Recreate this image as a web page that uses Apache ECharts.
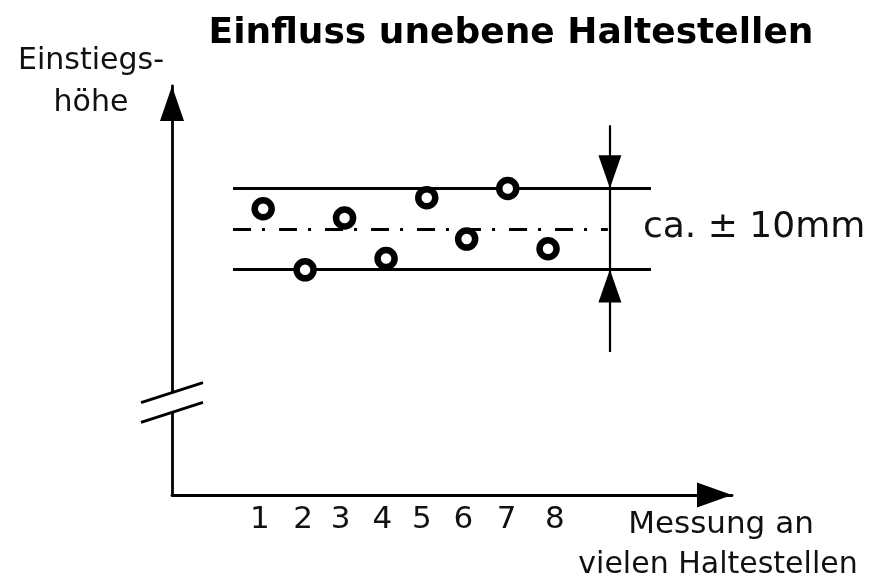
<!DOCTYPE html>
<html>
<head>
<meta charset="utf-8">
<script src="https://cdn.jsdelivr.net/npm/echarts@6.0.0/dist/echarts.min.js"></script>
<style>
  html, body { margin: 0; padding: 0; background: #fff; }
  #chart { width: 869px; height: 583px; }
</style>
</head>
<body>
<div id="chart"></div>
<script>
// Messungen (Haltestellen) und Abweichung der Einstiegshöhe in mm
const measurements = ["1", "2", "3", "4", "5", "6", "7", "8"];
const measureX = [1, 2.03, 3, 4.02, 5.02, 6, 7.01, 8];
const heightDev = [5.0, -10.1, 2.7, -7.3, 7.7, -2.5, 10.0, -4.9];
// Lage der Beschriftungen unter der x-Achse
const labelX = [0.92, 1.98, 2.9, 3.93, 4.9, 5.92, 6.98, 8.17];

// Toleranzband ±10mm
const bandLevels = [10, -10];
const centerLevel = 0;
const bandX = [0.26, 10.53];
const centerEndX = 9.47;
const dimX = 9.52;
const dimY = [25.6, -30.4];
const arrowY = [14.1, -14.1];
// Achsenunterbrechung
const breakY = [-40.4, -45.3];

const FONT = "DejaVu Sans";
const chart = echarts.init(document.getElementById("chart"));

const bandLines = bandLevels.map((lvl) => [
  { coord: [bandX[0], lvl], lineStyle: { type: "solid", width: 2.8, color: "#000" } },
  { coord: [bandX[1], lvl] },
]);
bandLines.push([
  { coord: [bandX[0], centerLevel], lineStyle: { type: [18, 11, 3, 14], width: 2.8, color: "#000" } },
  { coord: [centerEndX, centerLevel] },
]);
bandLines.push([
  { coord: [dimX, dimY[0]], lineStyle: { type: "solid", width: 2.2, color: "#000" } },
  { coord: [dimX, dimY[1]] },
]);

const textStyle = (size) => ({ font: size + "px '" + FONT + "'", fill: "#111", textVerticalAlign: "middle" });

const option = {
  animation: false,
  title: {
    text: "Einfluss unebene Haltestellen",
    left: 506,
    top: 11,
    textAlign: "center",
    textStyle: { fontFamily: FONT, fontSize: 36, fontWeight: "bold", color: "#000" },
  },
  grid: { left: 172, right: 137, top: 86, bottom: 88 },
  xAxis: {
    type: "value",
    min: -1.24,
    max: 12.52,
    splitLine: { show: false },
    axisTick: { show: false },
    axisLine: {
      onZero: false,
      lineStyle: { color: "#000", width: 2.8 },
      symbol: ["none", "triangle"],
      symbolSize: [25, 35],
      symbolOffset: [0, -17.5],
    },
    axisLabel: {
      customValues: labelX,
      margin: 9,
      fontFamily: FONT,
      fontSize: 31,
      color: "#111",
      formatter: (v) => {
        let best = 0;
        labelX.forEach((p, i) => {
          if (Math.abs(p - v) < Math.abs(labelX[best] - v)) best = i;
        });
        return measurements[best];
      },
    },
  },
  yAxis: {
    type: "value",
    min: -65.7,
    max: 35.3,
    splitLine: { show: false },
    axisTick: { show: false },
    axisLabel: { show: false },
    axisLine: {
      onZero: false,
      lineStyle: { color: "#000", width: 2.8 },
      symbol: ["none", "triangle"],
      symbolSize: [24, 35],
      symbolOffset: [0, -17.5],
    },
  },
  graphic: [
    { type: "text", x: 91, y: 61, style: Object.assign(textStyle(30), { text: "Einstiegs-", textAlign: "center" }) },
    { type: "text", x: 91, y: 103, style: Object.assign(textStyle(30), { text: "höhe", textAlign: "center" }) },
    { type: "text", x: 643, y: 228, style: Object.assign(textStyle(36), { text: "ca. ± 10mm", textAlign: "left" }) },
    { type: "text", x: 721, y: 525, style: Object.assign(textStyle(31), { text: "Messung an", textAlign: "center" }) },
    { type: "text", x: 718, y: 565, style: Object.assign(textStyle(30), { text: "vielen Haltestellen", textAlign: "center" }) },
  ],
  series: [
    {
      name: "Einstiegshöhe",
      type: "scatter",
      z: 5,
      symbol: "circle",
      symbolSize: 17,
      itemStyle: { color: "#fff", borderColor: "#000", borderWidth: 6.5, opacity: 1 },
      data: measureX.map((x, i) => [x, heightDev[i]]),
      markLine: {
        silent: true,
        symbol: ["none", "none"],
        label: { show: false },
        data: bandLines,
      },
    },
    {
      name: "Pfeile",
      type: "scatter",
      symbol: "triangle",
      symbolSize: [23, 33],
      itemStyle: { color: "#000", opacity: 1 },
      data: [
        { value: [dimX, arrowY[0]], symbolRotate: 180 },
        { value: [dimX, arrowY[1]], symbolRotate: 0 },
      ],
    },
    {
      name: "Bruch",
      type: "custom",
      clip: false,
      z: 6,
      data: [[-1.24, breakY[0], breakY[1]]],
      renderItem: (params, api) => {
        const a = api.coord([api.value(0), api.value(1)]);
        const b = api.coord([api.value(0), api.value(2)]);
        return {
          type: "group",
          children: [
            { type: "rect", shape: { x: a[0] - 4, y: a[1], width: 8, height: b[1] - a[1] }, style: { fill: "#fff" } },
            { type: "line", shape: { x1: a[0] - 31, y1: a[1] + 10, x2: a[0] + 31, y2: a[1] - 10 }, style: { stroke: "#000", lineWidth: 2.8 } },
            { type: "line", shape: { x1: b[0] - 31, y1: b[1] + 10, x2: b[0] + 31, y2: b[1] - 10 }, style: { stroke: "#000", lineWidth: 2.8 } },
          ],
        };
      },
    },
  ],
};

chart.setOption(option);
</script>
</body>
</html>
